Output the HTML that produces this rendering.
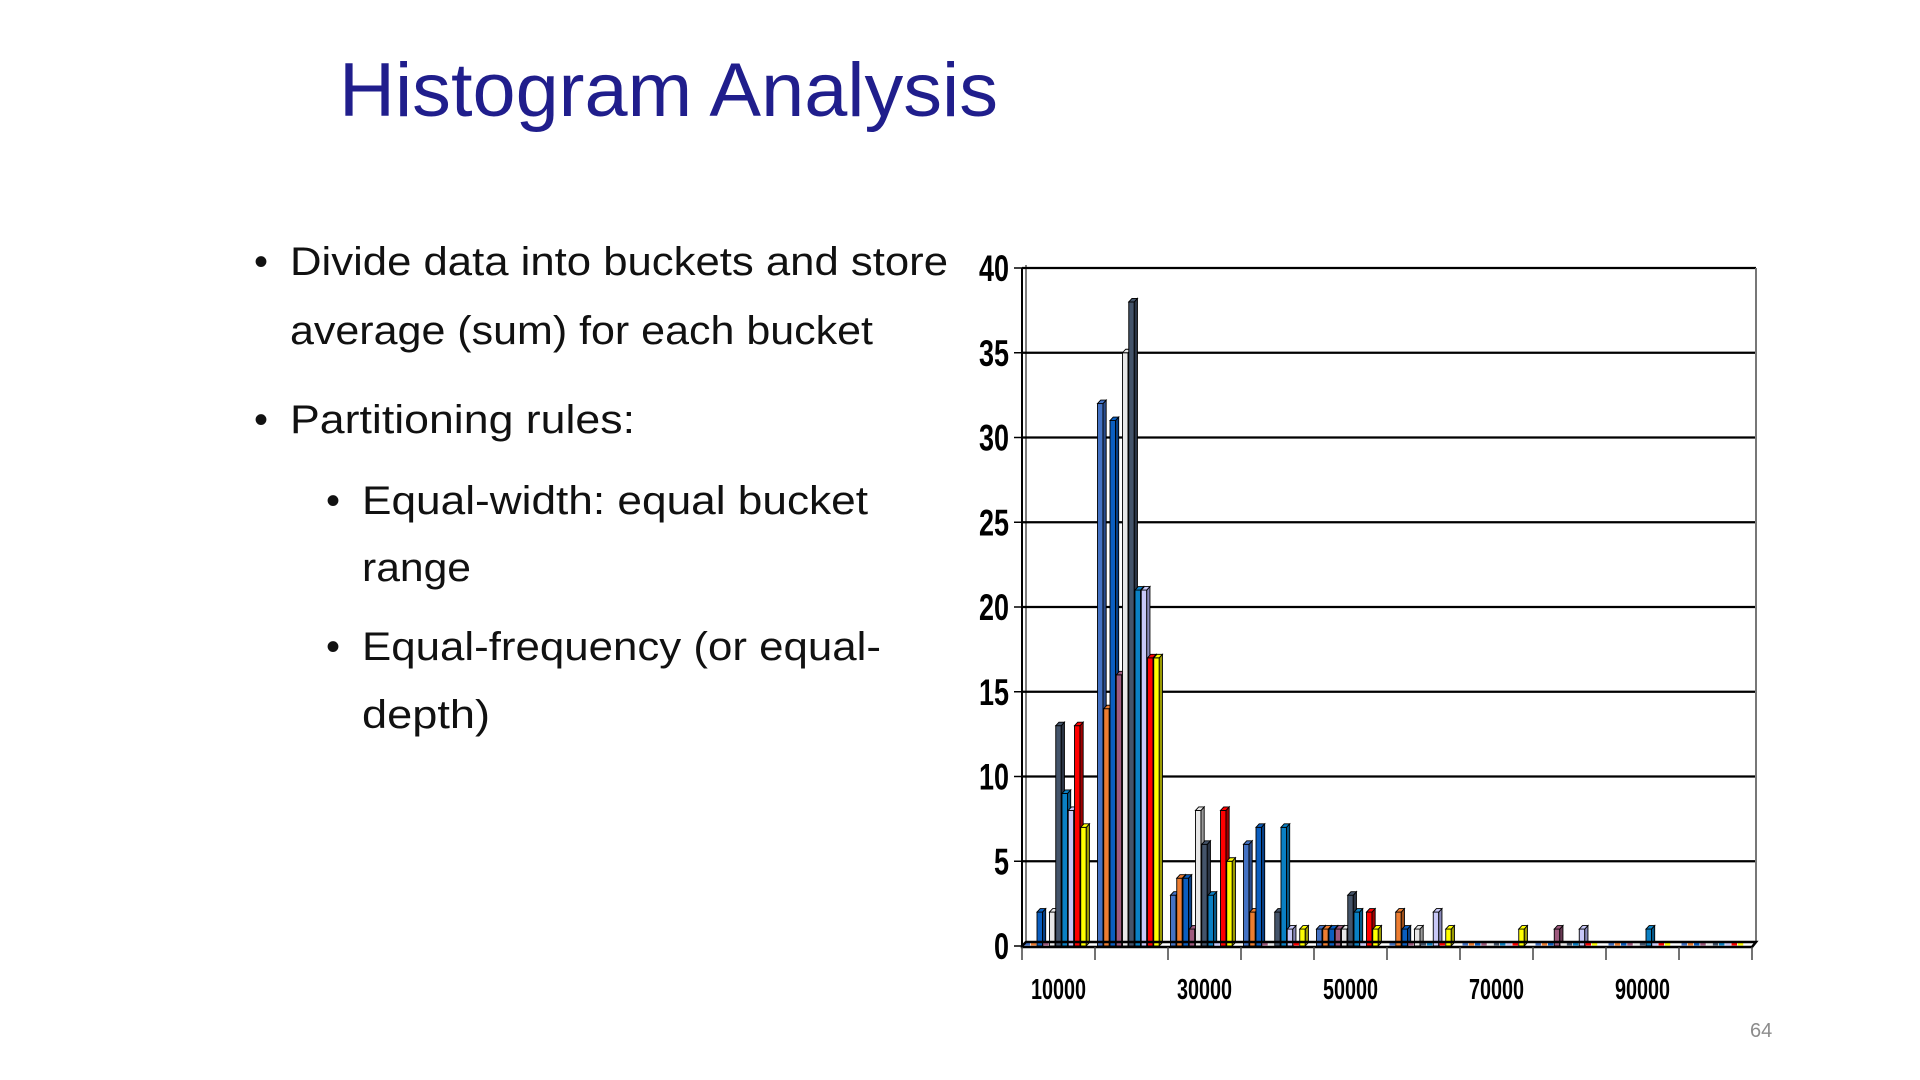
<!DOCTYPE html>
<html><head><meta charset="utf-8"><style>
html,body{margin:0;padding:0;background:#fff;}
svg{display:block;}
</style></head><body>
<svg id="root" width="1920" height="1080" viewBox="0 0 1920 1080" xmlns="http://www.w3.org/2000/svg">
<text x="339" y="116" font-family="Liberation Sans, sans-serif" font-size="76" fill="#201E8C" textLength="659" lengthAdjust="spacingAndGlyphs">Histogram Analysis</text>
<g font-family="Liberation Sans, sans-serif" font-size="40" fill="#111">
<text x="254" y="275">•</text>
<text x="290" y="275" textLength="658" lengthAdjust="spacingAndGlyphs">Divide data into buckets and store</text>
<text x="290" y="344" textLength="583" lengthAdjust="spacingAndGlyphs">average (sum) for each bucket</text>
<text x="254" y="433">•</text>
<text x="290" y="433" textLength="345" lengthAdjust="spacingAndGlyphs">Partitioning rules:</text>
<text x="326" y="514">•</text>
<text x="362" y="514" textLength="506" lengthAdjust="spacingAndGlyphs">Equal-width: equal bucket</text>
<text x="362" y="581" textLength="109" lengthAdjust="spacingAndGlyphs">range</text>
<text x="326" y="660">•</text>
<text x="362" y="660" textLength="519" lengthAdjust="spacingAndGlyphs">Equal-frequency (or equal-</text>
<text x="362" y="728" textLength="128" lengthAdjust="spacingAndGlyphs">depth)</text>
</g>
<g id="chart"></g>
<text x="1750" y="1037" font-family="Liberation Sans, sans-serif" font-size="20" fill="#8c8c8c">64</text>
</svg>
<script>
const categories = [10000,20000,30000,40000,50000,60000,70000,80000,90000,100000];
const xTickLabels = ["10000","30000","50000","70000","90000"];
const yTicks = [0,5,10,15,20,25,30,35,40];
const seriesBlue      = [0,32,3,6,1,0,0,0,0,0];
const seriesOrange    = [0,14,4,2,1,2,0,0,0,0];
const seriesDarkBlue  = [2,31,4,7,1,1,0,0,0,0];
const seriesMauve     = [0,16,1,0,1,0,0,1,0,0];
const seriesWhite     = [2,35,8,0,1,1,0,0,0,0];
const seriesSlate     = [13,38,6,2,3,0,0,0,0,0];
const seriesCerulean  = [9,21,3,7,2,0,0,0,1,0];
const seriesLavender  = [8,21,0,1,0,2,0,1,0,0];
const seriesRed       = [13,17,8,0,2,0,0,0,0,0];
const seriesYellow    = [7,17,5,1,1,1,1,0,0,0];

const allSeries = [seriesBlue,seriesOrange,seriesDarkBlue,seriesMauve,seriesWhite,seriesSlate,seriesCerulean,seriesLavender,seriesRed,seriesYellow];
const colors = ["#4472C4","#ED7D31","#0A5EC0","#9E5A7E","#E8E8E8","#44546A","#0A80C4","#C8C8F8","#FF0000","#FFFF00"];
const sideColors = ["#2A4C8C","#9E4F18","#063F85","#6A3A54","#9A9A9A","#2A3444","#055888","#8888B8","#A00000","#9A9A00"];
const names = ["blue","orange","dark-blue","mauve","white","slate","cerulean","lavender","red","yellow"];

const NS="http://www.w3.org/2000/svg";
const chart=document.getElementById('chart');
const L=1022,R=1752,T=268,B=946,yMax=40;
const catW=(R-L)/categories.length;
const xCat=i=>L+i*catW;
const yVal=v=>B-(v/yMax)*(B-T);
function mk(tag,attrs,parent){const e=document.createElementNS(NS,tag);for(const k in attrs)e.setAttribute(k,attrs[k]);(parent||chart).appendChild(e);return e;}

const grid=mk('g',{});


yTicks.forEach(t=>{
  const y=yVal(t);
  if(t>0){const ln=mk('line',{x1:L,x2:R+4,y1:y,y2:y,stroke:'#000','stroke-width':2.2},grid);
    
    }
  const tk=mk('line',{x1:L-8,x2:L,y1:y,y2:y,stroke:'#000','stroke-width':1.5},grid);
  
  
  const s=String(t);
  const lb=mk('text',{x:1009,y:y+13,'text-anchor':'end','font-family':'Liberation Sans Narrow, Liberation Sans, sans-serif','font-weight':'bold','font-size':37,fill:'#000',textLength:15*s.length,lengthAdjust:'spacingAndGlyphs'});
  lb.textContent=s;
  
  
});
const wallL=mk('line',{x1:L,x2:L,y1:T,y2:B+2,stroke:'#000','stroke-width':2});


const wallL2=mk('line',{x1:L+4,x2:L+4,y1:T-3,y2:B-2,stroke:'#000','stroke-width':1});


const wallR=mk('line',{x1:R+4,x2:R+4,y1:T,y2:B-3,stroke:'#777','stroke-width':2});



const barsG=mk('g',{});


const pitch=6.25,bw=5.5,dx=3.2,dy=3.5;
categories.forEach((c,ci)=>{
  allSeries.forEach((s,si)=>{
    const v=s[ci];
    const x=xCat(ci)+2.5+si*pitch;
    const yt=yVal(v);
    const g=mk('g',{},barsG);
    
    
    if(v>0){
      mk('rect',{x:x,y:yt,width:bw,height:B-yt,fill:colors[si],stroke:'#000','stroke-width':0.9},g);
      mk('polygon',{points:`${x+bw},${yt} ${x+bw+dx},${yt-dy} ${x+bw+dx},${B-dy} ${x+bw},${B}`,fill:sideColors[si],stroke:'#000','stroke-width':0.9},g);
      mk('polygon',{points:`${x},${yt} ${x+dx},${yt-dy} ${x+bw+dx},${yt-dy} ${x+bw},${yt}`,fill:colors[si],stroke:'#000','stroke-width':0.9},g);
    } else {
      mk('rect',{x:x,y:B-3,width:bw,height:2.5,fill:colors[si]},g);
    }
  });
});

const floor=mk('polygon',{points:`${L},${B} ${L+4},${B-4} ${R+4},${B-4} ${R},${B+1} ${L},${B+1}`,fill:'none',stroke:'#000','stroke-width':2.5});


for(let i=0;i<=categories.length;i++){
  const tk=mk('line',{x1:xCat(i),x2:xCat(i),y1:B+1,y2:B+14,stroke:'#444','stroke-width':1.5});
  
  
}
xTickLabels.forEach((lab,k)=>{
  const ci=k*2;
  const t=mk('text',{x:xCat(ci)+catW/2,y:999,'text-anchor':'middle','font-family':'Liberation Sans Narrow, Liberation Sans, sans-serif','font-weight':'bold','font-size':29,fill:'#000',textLength:55,lengthAdjust:'spacingAndGlyphs'});
  t.textContent=lab;
  
  
});
</script>
</body></html>
